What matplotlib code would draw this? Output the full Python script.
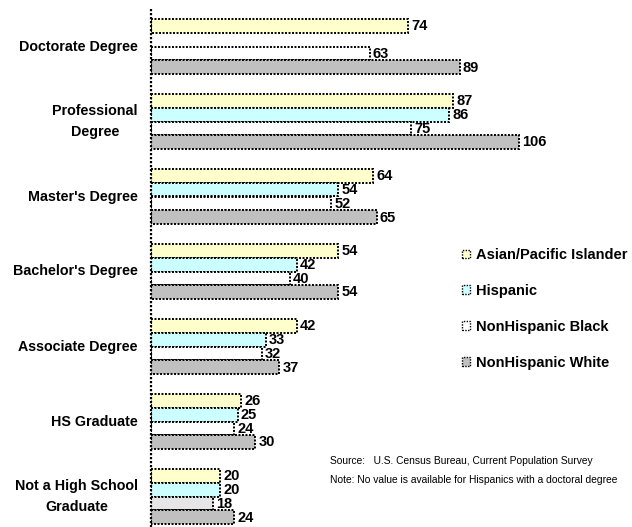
import matplotlib
matplotlib.use("Agg")
import matplotlib.pyplot as plt
from matplotlib.patches import Patch
import numpy as np

categories = ["Doctorate Degree", "Professional\nDegree", "Master's Degree", "Bachelor's Degree",
              "Associate Degree", "HS Graduate", "Not a High School\nGraduate"]
series_names = ["Asian/Pacific Islander", "Hispanic", "NonHispanic Black", "NonHispanic White"]
asian = [74, 87, 64, 54, 42, 26, 20]
hispanic = [None, 86, 54, 42, 33, 25, 20]
black = [63, 75, 52, 40, 32, 24, 18]
white = [89, 106, 65, 54, 37, 30, 24]
series = [asian, hispanic, black, white]
colors = ["#ffffcc", "#ccffff", "#ffffff", "#c0c0c0"]

plt.rcParams['font.family'] = ['Liberation Sans', 'DejaVu Sans']

W, H = 632, 527
fig = plt.figure(figsize=(W/100, H/100), dpi=100)
ax_left = 151 / W
ax_top = 1 - 9 / H
ax_bottom = 1 - 534 / H
ax = fig.add_axes([ax_left, ax_bottom, 1 - ax_left, ax_top - ax_bottom])

scale = 3.47  # px per unit
ax.set_xlim(0, (W - 151) / scale)
ax.set_ylim(6.5, -0.5)

h = 13.75 / 75
y = np.arange(len(categories))
for i, (vals, col) in enumerate(zip(series, colors)):
    off = (i - 1.5) * h
    for j, v in enumerate(vals):
        if v is None:
            continue
        c = col
        if i == 2 and j == 6:
            c = "#e6e6e6"
        ax.barh(y[j] + off, v, height=h, color=c, edgecolor="black",
                linewidth=1.4, linestyle=(0, (1, 0.8)))
        ax.text(v + 0.9, y[j] + off + 0.005, str(v), ha="left", va="center",
                fontsize=10.5, fontweight="bold")

for j, cat in enumerate(categories):
    ax.text(-3.8, y[j], cat, ha="right", va="center", multialignment="center",
            fontsize=10.3, fontweight="bold", linespacing=1.55)

for s in ["top", "right", "bottom", "left"]:
    ax.spines[s].set_visible(False)
ax.plot([0, 0], [-0.5, 6.5], color="black", lw=1.6, ls=(0, (1, 0.8)),
        clip_on=False, zorder=5, solid_capstyle="butt", dash_capstyle="butt")
ax.set_xticks([])
ax.set_yticks([])
ax.patch.set_alpha(0)

handles = [Patch(facecolor=c, edgecolor="black", linewidth=1.0, linestyle=(0, (1, 1)))
           for c in colors]
leg = fig.legend(handles, series_names, loc="upper left",
                 bbox_to_anchor=(449 / W, 1 - 235 / H), frameon=False,
                 handlelength=0.55, handleheight=0.55, handletextpad=0.4,
                 labelspacing=1.5, prop={"weight": "bold", "size": 10.5})

fig.text(330 / W, 1 - 461 / H, "Source:   U.S. Census Bureau, Current Population Survey",
         fontsize=7.4, ha="left", va="center")
fig.text(330 / W, 1 - 480 / H, "Note: No value is available for Hispanics with a doctoral degree",
         fontsize=7.4, ha="left", va="center")

fig.savefig("out.png", dpi=100)
